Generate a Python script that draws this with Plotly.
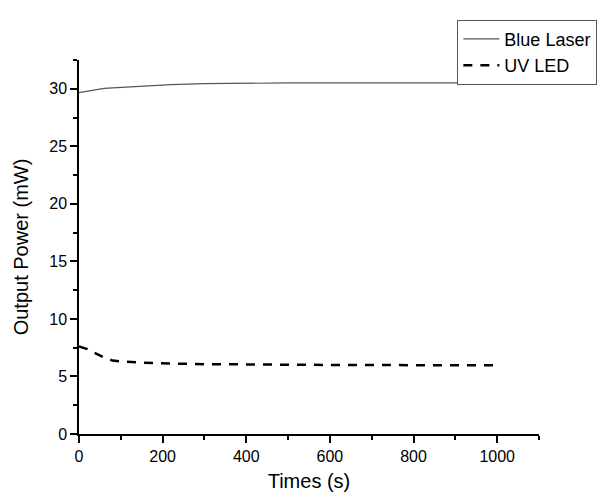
import plotly.graph_objects as go

times = [0, 20, 40, 60, 80, 100, 140, 180, 220, 300, 400, 500, 600, 700, 800, 900, 1000]
blue_laser = [29.66, 29.8, 29.93, 30.03, 30.08, 30.12, 30.2, 30.29, 30.36, 30.44, 30.49, 30.51, 30.52, 30.52, 30.52, 30.52, 30.52]
uv_led = [7.6, 7.38, 7.0, 6.65, 6.38, 6.3, 6.22, 6.16, 6.12, 6.07, 6.03, 6.01, 6.0, 5.99, 5.98, 5.98, 5.97]

x_ticks = [0, 200, 400, 600, 800, 1000]
y_ticks = [0, 5, 10, 15, 20, 25, 30]

font = "Arial, Liberation Sans, sans-serif"

fig = go.Figure()
fig.add_trace(go.Scatter(x=times, y=blue_laser, mode="lines", name="Blue Laser",
                         line=dict(color="#555555", width=1.2)))
fig.add_trace(go.Scatter(x=times, y=uv_led, mode="lines", name="UV LED",
                         line=dict(color="black", width=2.5, dash="9px,8px")))

axis_common = dict(showline=True, linecolor="black", linewidth=1.5, ticks="outside",
                   ticklen=7, tickwidth=1.5, tickcolor="black", showgrid=False, zeroline=False,
                   tickfont=dict(size=16, color="black", family=font), mirror=False)

fig.update_layout(
    width=605, height=493,
    margin=dict(l=69, r=74, t=45, b=67),
    plot_bgcolor="white", paper_bgcolor="white",
    font=dict(family=font, color="black"),
    xaxis=dict(range=[0, 1100], tickvals=x_ticks,
               title=dict(text="Times (s)", font=dict(size=20), standoff=10),
               minor=dict(ticks="outside", dtick=100, ticklen=4, tickwidth=1.5, tickcolor="black"),
               **axis_common),
    yaxis=dict(range=[0, 32.5], tickvals=y_ticks,
               title=dict(text="Output Power (mW)", font=dict(size=20), standoff=15),
               minor=dict(ticks="outside", dtick=2.5, ticklen=4, tickwidth=1.5, tickcolor="black"),
               **axis_common),
    legend=dict(x=0.8225, y=1.1076, xanchor="left", yanchor="top",
                bordercolor="#555555", borderwidth=1, bgcolor="white",
                font=dict(size=18, family=font), tracegroupgap=0,
                itemwidth=36),
    showlegend=True,
)

fig.write_html("out.html")
